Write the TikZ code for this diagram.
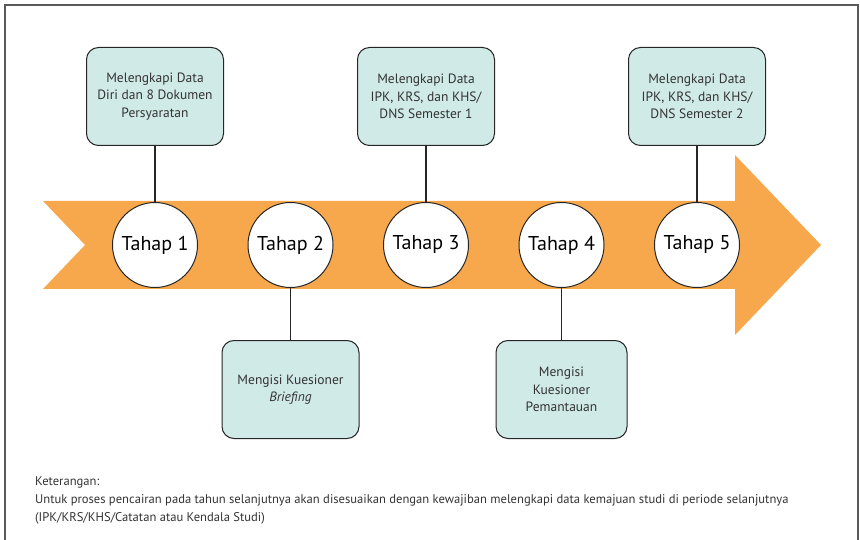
\documentclass[tikz,border=0pt]{standalone}
\usepackage{fontspec}
\setmainfont{PT Sans}
\usetikzlibrary{positioning, shapes}
\definecolor{arrowfill}{RGB}{247,168,76}
\definecolor{boxfill}{RGB}{208,234,231}
\begin{document}
\begin{tikzpicture}[x=1pt, y=-1pt,
  tahap/.style={circle, draw=black!85, fill=white, line width=1pt, minimum size=85pt, inner sep=0pt, font=\fontsize{20}{24}\selectfont},
  ket/.style={rectangle, rounded corners=12pt, draw=black!85, fill=boxfill, line width=1pt, minimum width=137pt, minimum height=98pt, align=center, font=\fontsize{13.5}{17.5}\selectfont, text=black!80},
  link/.style={draw=black!85, line width=1.4pt}]
  \useasboundingbox (0,0) rectangle (860,540);
  \draw[black!65, line width=1.2pt] (5,560) -- (5,5) -- (858,5) -- (858,560);

  % the big arrow
  \fill[arrowfill] (43,201) -- (735,201) -- (735,155) -- (821,245) -- (735,335) -- (735,289) -- (43,289) -- (85,245) -- cycle;

  \node[tahap] (t1) at (155,245) {Tahap 1};
  \node[tahap] (t2) at (290.5,245) {Tahap 2};
  \node[tahap] (t3) at (426,245) {Tahap 3};
  \node[tahap] (t4) at (561.5,245) {Tahap 4};
  \node[tahap] (t5) at (697,245) {Tahap 5};

  \node[ket, above = 56pt of t1] (k1) {Melengkapi Data\\Diri dan 8 Dokumen\\Persyaratan};
  \node[ket, below = 52pt of t2] (k2) {Mengisi Kuesioner\\\textit{Briefing}};
  \node[ket, above = 56pt of t3] (k3) {Melengkapi Data\\IPK, KRS, dan KHS/\\DNS Semester 1};
  \node[ket, below = 52pt of t4, minimum width=131pt] (k4) {Mengisi\\Kuesioner\\Pemantauan};
  \node[ket, above = 56pt of t5] (k5) {Melengkapi Data\\IPK, KRS, dan KHS/\\DNS Semester 2};

  \draw[link] (k1) -- (t1);
  \draw[link] (t2) -- (k2);
  \draw[link] (k3) -- (t3);
  \draw[link] (t4) -- (k4);
  \draw[link] (k5) -- (t5);

  \node[anchor=north west, align=left, inner sep=0pt, font=\fontsize{12.6}{18}\selectfont, text=black!80] (note) at (35,476) {Keterangan:\\Untuk proses pencairan pada tahun selanjutnya akan disesuaikan dengan kewajiban melengkapi data kemajuan studi di periode selanjutnya\\(IPK/KRS/KHS/Catatan atau Kendala Studi)};
\end{tikzpicture}
\end{document}
